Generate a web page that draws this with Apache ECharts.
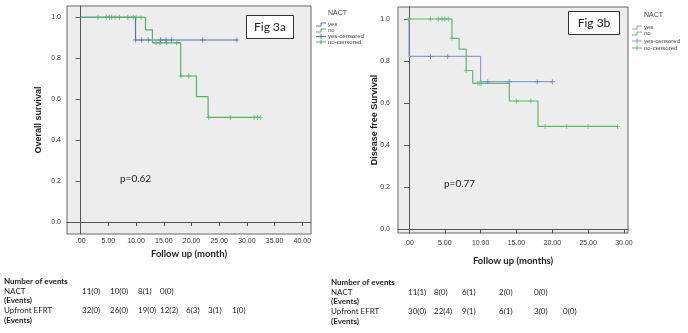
<!DOCTYPE html>
<html><head><meta charset="utf-8">
<script src="https://cdn.jsdelivr.net/npm/echarts@6/dist/echarts.min.js"></script>
<style>html,body{margin:0;padding:0;background:#fff}#c{width:688px;height:333px}</style>
</head><body><div id="c"></div>
<script>
// ---- axis ticks ----
const xTicksA = [0,5,10,15,20,25,30,35,40];
const xLabelsA = ['.00','5.00','10.00','15.00','20.00','25.00','30.00','35.00','40.00'];
const xTicksB = [0,5,10,15,20,25,30];
const xLabelsB = ['.00','5.00','10.00','15.00','20.00','25.00','30.00'];
const yTicks = [0,0.2,0.4,0.6,0.8,1.0];
const yLabels = ['0.0','0.2','0.4','0.6','0.8','1.0'];

// ---- Fig 3a: overall survival ----
const osYesTime = [0, 9.9, 28.2];
const osYesSurv = [1, 0.889, 0.889];
const osYesCensTime = [9.9, 11.0, 12.2, 14.4, 15.4, 16.4, 22.0, 28.2];
const osYesCensSurv = [0.889,0.889,0.889,0.889,0.889,0.889,0.889,0.889];
const osNoTime = [0, 11.7, 12.95, 18.05, 20.9, 23.0, 32.4];
const osNoSurv = [1, 0.938, 0.875, 0.713, 0.612, 0.511, 0.511];
const osNoCensTime = [3.1,4.6,5.2,5.6,6.2,7.0,8.5,9.5,10.0,10.9, 13.6,14.3,15.5,17.3, 18.1,19.5, 23.1,27.0,31.3,31.9,32.4];
const osNoCensSurv = [1,1,1,1,1,1,1,1,1,1, 0.875,0.875,0.875,0.875, 0.713,0.713, 0.511,0.511,0.511,0.511,0.511];

// ---- Fig 3b: disease free survival ----
const dfsYesTime = [0, 0, 10, 20];
const dfsYesSurv = [1, 0.822, 0.702, 0.702];
const dfsYesCensTime = [3.0, 5.4, 11.0, 14.0, 17.9, 20.0];
const dfsYesCensSurv = [0.822,0.822,0.702,0.702,0.702,0.702];
const dfsNoTime = [0, 6.0, 7.0, 8.0, 8.9, 14.0, 18.0, 29.1];
const dfsNoSurv = [1, 0.908, 0.857, 0.755, 0.694, 0.610, 0.489, 0.489];
const dfsNoCensTime = [0,3.0,4.1,4.6,5.0,5.5, 6.0, 8.0, 9.6,9.9,10.1, 15.0,17.0, 19.0,22.0,25.0,29.1];
const dfsNoCensSurv = [1,1,1,1,1,1, 0.908, 0.755, 0.694,0.694,0.694, 0.610,0.610, 0.489,0.489,0.489,0.489];

// ---- number-at-risk tables ----
const tableA_nact = ['11(0)','10(0)','8(1)','0(0)'];
const tableA_upfront = ['32(0)','26(0)','19(0)','12(2)','6(3)','3(1)','1(0)'];
const tableB_nact = ['11(1)','8(0)','6(1)','2(0)','0(0)'];
const tableB_upfront = ['30(0)','22(4)','9(1)','6(1)','3(0)','0(0)'];

const legendItems = ['yes','no','yes-censored','no-censored'];

function zip(a,b){return a.map((v,i)=>[v,b[i]]);}
const PLUS = 'path://M2,0h1v2h2v1h-2v2h-1v-2h-2v-1h2z';

const blueA='#5670b4', greenA='#4fb565', blueB='#8e9ecf', greenB='#5dbb6e';
const lblFont = '"Liberation Sans", Arial, sans-serif';
const calFont = 'Lato, "Open Sans", sans-serif';

function xAxisCfg(grid, min, max, ticks, labels, name, gap, margin){
  return {gridIndex:grid, type:'value', min:min, max:max,
    axisLine:{show:true, lineStyle:{color:'#555', width:1}},
    axisTick:{show:true, length:4, customValues:ticks, lineStyle:{color:'#555'}},
    axisLabel:{customValues:ticks, formatter:v=>labels[ticks.indexOf(v)], fontSize:7, color:'#333', margin:margin, fontFamily:lblFont},
    splitLine:{show:false},
    name:name, nameLocation:'middle', nameGap:gap, nameMoveOverlap:false,
    nameTextStyle:{fontSize:9.5, fontWeight:'bold', color:'#222', fontFamily:calFont}};
}
function yAxisCfg(grid, min, max, name, gap, margin){
  return {gridIndex:grid, type:'value', min:min, max:max,
    axisLine:{show:true, lineStyle:{color:'#555', width:1}},
    axisTick:{show:true, length:5, customValues:yTicks, lineStyle:{color:'#555'}},
    axisLabel:{customValues:yTicks, formatter:v=>yLabels[yTicks.indexOf(v)], fontSize:7, color:'#333', margin:margin, fontFamily:lblFont},
    splitLine:{show:false},
    name:name, nameLocation:'middle', nameGap:gap, nameRotate:90, nameMoveOverlap:false,
    nameTextStyle:{fontSize:9, fontWeight:'bold', color:'#222', fontFamily:lblFont}};
}
function stepSeries(xi, data, color){
  return {type:'line', xAxisIndex:xi, yAxisIndex:xi, data:data, step:'end', showSymbol:false, symbol:'none',
    lineStyle:{color:color, width:1.2}, silent:true, z:3};
}
function censSeries(xi, data, color){
  return {type:'scatter', xAxisIndex:xi, yAxisIndex:xi, data:data, symbol:PLUS, symbolSize:[5,5],
    itemStyle:{color:color}, silent:true, z:4};
}

const g = [];
function txt(x,y,s,opt){g.push(Object.assign({type:'text', x:x, y:y, style:Object.assign({text:s, fill:'#222', font:'8px '+calFont, verticalAlign:'middle'}, opt||{})}));}
// Fig label boxes
g.push({type:'rect', shape:{x:246.5,y:15.5,width:47,height:23}, style:{fill:'#fff', stroke:'#333', lineWidth:1}, z:10});
g.push({type:'text', x:270, y:27, z:11, style:{text:'Fig 3a', font:'12px '+calFont, fill:'#222', align:'center', verticalAlign:'middle'}});
g.push({type:'rect', shape:{x:568.5,y:11.5,width:51,height:23}, style:{fill:'#fff', stroke:'#333', lineWidth:1}, z:10});
g.push({type:'text', x:594, y:23, z:11, style:{text:'Fig 3b', font:'12px '+calFont, fill:'#222', align:'center', verticalAlign:'middle'}});
// p-values
g.push({type:'text', x:120, y:179, z:11, style:{text:'p=0.62', font:'10px '+calFont, fill:'#222', verticalAlign:'middle'}});
g.push({type:'text', x:444, y:184, z:11, style:{text:'p=0.77', font:'10px '+calFont, fill:'#222', verticalAlign:'middle'}});

// legends
function legend(x, y0, ys, blue, green){
  g.push({type:'text', x:x+12, y:y0, style:{text:'NACT', font:'7px '+lblFont, fill:'#444', verticalAlign:'middle'}});
  const cols=[blue,green,blue,green];
  legendItems.forEach((s,i)=>{
    const y=ys[i];
    if(i<2){
      g.push({type:'polyline', shape:{points:[[x,y+2],[x+5,y+2],[x+5,y-1],[x+10,y-1]]}, style:{stroke:cols[i], fill:null, lineWidth:1}});
    } else {
      g.push({type:'polyline', shape:{points:[[x,y],[x+10,y]]}, style:{stroke:cols[i], fill:null, lineWidth:1}});
      g.push({type:'polyline', shape:{points:[[x+5,y-2.5],[x+5,y+2.5]]}, style:{stroke:cols[i], fill:null, lineWidth:1}});
    }
    g.push({type:'text', x:x+12, y:y, style:{text:s, font:'6px '+lblFont, fill:'#444', verticalAlign:'middle'}});
  });
}
legend(316, 13, [24,30,36.5,42], blueA, greenA);
legend(632, 15, [27,33,41,48], blueB, greenB);

// tables
function table(lx, vx, rows, nact, upfront){
  txt(lx, rows[0], 'Number of events', {font:'bold 8px '+calFont});
  txt(lx, rows[1], 'NACT');
  txt(lx, rows[2], '(Events)', {font:'bold 8px '+calFont});
  txt(lx, rows[3], 'Upfront EFRT');
  txt(lx, rows[4], '(Events)', {font:'bold 8px '+calFont});
  nact.forEach((s,i)=>txt(vx[i], rows[1], s));
  upfront.forEach((s,i)=>txt(vx[i], rows[3], s));
}
table(4, [82,110,138,160,186,208,232], [281,291,300,310,320], tableA_nact, tableA_upfront);
table(331, [408,434,462,499,534,563], [282,292,301,311,321], tableB_nact, tableB_upfront);

const option = {
  animation:false,
  grid:[
    {left:67, top:6, width:244, height:228, show:true, backgroundColor:'#ededed', borderColor:'#666', borderWidth:1},
    {left:398, top:7, width:230, height:226, show:true, backgroundColor:'#ededed', borderColor:'#666', borderWidth:1}
  ],
  xAxis:[
    xAxisCfg(0, -2.47, 41.57, xTicksA, xLabelsA, 'Follow up (month)', 15, 4),
    xAxisCfg(1, -1.53, 30.56, xTicksB, xLabelsB, 'Follow up (months)', 23, 7)
  ],
  yAxis:[
    yAxisCfg(0, -0.0586, 1.055, 'Overall survival', 24, 6),
    yAxisCfg(1, -0.0176, 1.057, 'Disease free Survival', 19, 8)
  ],
  series:[
    stepSeries(0, zip(osYesTime, osYesSurv), blueA),
    stepSeries(0, zip(osNoTime, osNoSurv), greenA),
    censSeries(0, zip(osYesCensTime, osYesCensSurv), blueA),
    censSeries(0, zip(osNoCensTime, osNoCensSurv), greenA),
    stepSeries(1, zip(dfsYesTime, dfsYesSurv), blueB),
    stepSeries(1, zip(dfsNoTime, dfsNoSurv), greenB),
    censSeries(1, zip(dfsYesCensTime, dfsYesCensSurv), '#6d80bd'),
    censSeries(1, zip(dfsNoCensTime, dfsNoCensSurv), greenB)
  ],
  graphic:g
};
const chart = echarts.init(document.getElementById('c'), null, {renderer:'canvas'});
chart.setOption(option);
</script></body></html>
